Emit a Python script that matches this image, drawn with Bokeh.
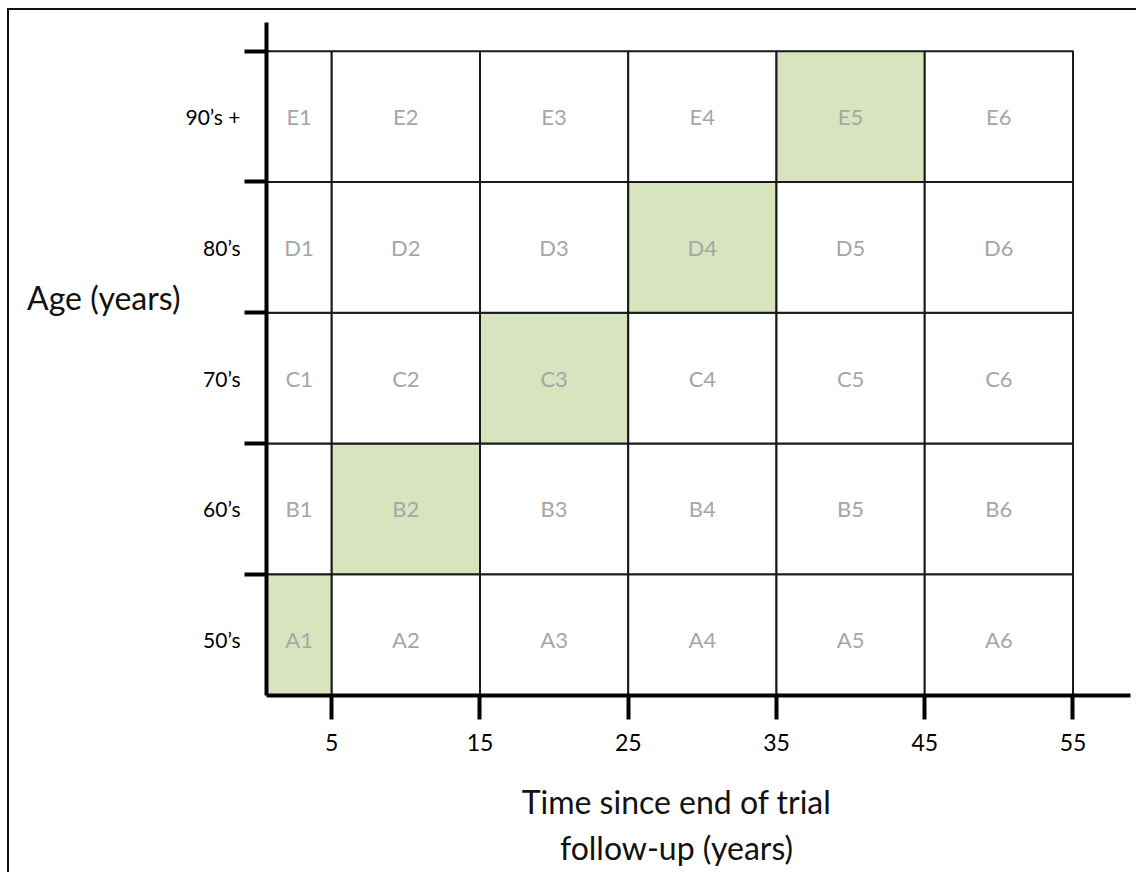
from bokeh.plotting import figure
from bokeh.models import Range1d, FixedTicker, LinearAxis, ColumnDataSource
from bokeh.core.properties import value
from bokeh.embed import file_html
from bokeh.resources import INLINE

# ---- data -------------------------------------------------------------
time_edges = [0, 5, 15, 25, 35, 45, 55]          # years since end of trial follow-up
age_edges = [50, 60, 70, 80, 90, 100]            # age bands (years)
row_ids = ["A", "B", "C", "D", "E"]
age_labels = ["50\u2019s", "60\u2019s", "70\u2019s", "80\u2019s", "90\u2019s +"]
x_tick_values = [5, 15, 25, 35, 45, 55]
highlighted = ["A1", "B2", "C3", "D4", "E5"]
x_title = ["Time since end of trial", "follow-up (years)"]
y_title = "Age (years)"

# ---- style ------------------------------------------------------------
FONT = "Lato"
GREEN = "#d7e4bd"
CELL_TEXT = "#a6a6a6"
X0, X1 = 0.6, 58.88
Y0, Y1 = 50.73, 102.19

# page-pixel helpers (for title placement only)
def dx(px):
    return round(X0 + (px - 266) / 864 * (X1 - X0), 2)

def dy(py):
    return round(Y0 + (695 - py) / 673 * (Y1 - Y0), 2)

# ---- cells ------------------------------------------------------------
left, right, bottom, top, fill, name, cx, cy = [], [], [], [], [], [], [], []
for r, rid in enumerate(row_ids):
    for c in range(len(time_edges) - 1):
        lab = f"{rid}{c + 1}"
        left.append(time_edges[c]); right.append(time_edges[c + 1])
        bottom.append(age_edges[r]); top.append(age_edges[r + 1])
        fill.append(GREEN if lab in highlighted else "white")
        name.append(lab)
        cx.append((max(time_edges[c], X0) + time_edges[c + 1]) / 2)
        cy.append((age_edges[r] + age_edges[r + 1]) / 2)

src = ColumnDataSource(dict(left=left, right=right, bottom=bottom, top=top,
                            fill=fill, name=name, cx=cx, cy=cy))

p = figure(width=1129, height=864, x_range=Range1d(X0, X1), y_range=Range1d(Y0, Y1),
           output_backend="svg", toolbar_location=None, title=None,
           min_border_left=257, min_border_right=8, min_border_top=12, min_border_bottom=179,
           background_fill_color="white", border_fill_color="white")
p.styles = {"margin-left": "7px", "margin-top": "8px",
            "border-top": "2px solid #111", "border-left": "2px solid #111"}
p.outline_line_color = None
p.grid.visible = False

p.quad(left="left", right="right", bottom="bottom", top="top", source=src,
       fill_color="fill", line_color="#1a1a1a", line_width=2)
p.text(x="cx", y="cy", text="name", source=src, text_align="center", text_baseline="middle",
       text_color=CELL_TEXT, text_font=value(FONT), text_font_size="22px")

# x axis
xa = p.xaxis[0]
xa.ticker = FixedTicker(ticks=x_tick_values, minor_ticks=[])
xa.axis_line_width = 4
xa.axis_line_color = "black"
xa.major_tick_out = 24
xa.major_tick_in = 0
xa.major_tick_line_width = 4
xa.major_tick_line_color = "black"
xa.minor_tick_out = 0
xa.minor_tick_in = 0
xa.major_label_standoff = 14
xa.major_label_text_font = FONT
xa.major_label_text_font_size = "23px"
xa.major_label_text_color = "black"

# y axis
ya = p.yaxis[0]
centers = [(age_edges[i] + age_edges[i + 1]) / 2 for i in range(len(age_labels))]
ya.ticker = FixedTicker(ticks=centers, minor_ticks=age_edges[1:])
ya.major_label_overrides = {c: l for c, l in zip(centers, age_labels)}
ya.axis_line_width = 4
ya.axis_line_color = "black"
ya.major_tick_out = 0
ya.major_tick_in = 0
ya.minor_tick_out = 22
ya.minor_tick_in = 0
ya.minor_tick_line_width = 4
ya.minor_tick_line_color = "black"
ya.major_label_standoff = 4
ya.major_label_text_font = FONT
ya.major_label_text_font_size = "21px"
ya.major_label_text_color = "black"


def title_axis(pos, text, standoff):
    ax = LinearAxis(ticker=FixedTicker(ticks=[pos], minor_ticks=[]),
                    major_label_overrides={pos: text},
                    axis_line_color=None, major_tick_line_color=None, minor_tick_line_color=None,
                    major_tick_out=0, major_tick_in=0, minor_tick_out=0, minor_tick_in=0,
                    major_label_standoff=standoff, major_label_text_font=FONT,
                    major_label_text_font_size="32px", major_label_text_color="#111111")
    return ax


p.add_layout(title_axis(dx(676), x_title[0], 28), "below")
p.add_layout(title_axis(dx(676), x_title[1], 4), "below")
p.add_layout(title_axis(dy(297), y_title, 2), "left")

open("out.html", "w").write(file_html(p, INLINE))
